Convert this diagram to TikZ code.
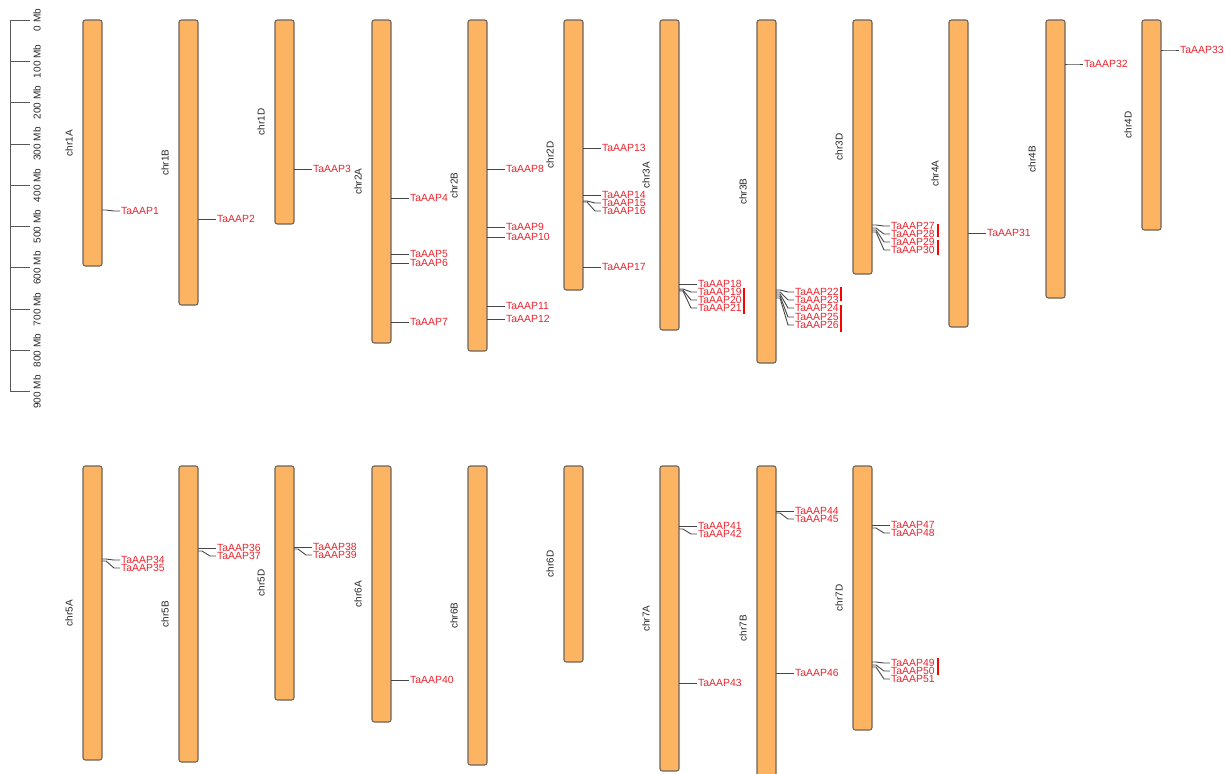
\documentclass[tikz,border=0pt]{standalone}
\usepackage{fontspec}
\setmainfont{Liberation Sans}
\definecolor{chrfill}{RGB}{253,180,98}
\definecolor{chrdraw}{RGB}{110,100,90}
\definecolor{genered}{RGB}{235,35,45}
\definecolor{linegray}{RGB}{70,70,70}
\tikzset{
  chrbox/.style={draw=chrdraw, fill=chrfill, line width=0.55pt, rounded corners=1.2pt},
  chrlab/.style={rotate=90, font=\fontsize{5}{6}\selectfont, text=black!85, inner sep=0pt},
  glabel/.style={anchor=west, font=\fontsize{5.2}{5.2}\selectfont, text=genered, inner sep=0.4pt},
  gline/.style={draw=linegray, line width=0.45pt},
  redbar/.style={draw=red, line width=1.1pt},
  ruler/.style={draw=black!65, line width=0.5pt},
  rulerlab/.style={rotate=90, font=\fontsize{5}{6}\selectfont, text=black!85, inner sep=0pt}
}
% #1 name, #2 left x, #3 top y, #4 bottom y, #5 label
\newcommand\chromo[5]{%
  \draw[chrbox] (#2,#3) rectangle (#2+19,#4);
  \node[chrlab] (#1) at (#2-14,{(#3+#4)/2}) {#5};
}
% #1 chr right x, #2 origin y, #3 label y, #4 number
\newcommand\gene[4]{%
  \node[glabel] (g#4) at (#1+18,#3) {TaAAP#4};
  \coordinate (o#4) at (#1,#2);
  \draw[gline] (o#4) -- ++(4,0) -- (#1+12,#3) -- (g#4.west);
}
\begin{document}
\begin{tikzpicture}[x=0.5pt,y=-0.5pt]
\useasboundingbox (0,0) rectangle (1225,773);
% ruler
\coordinate (r0) at (10,20);
\coordinate (r9) at (10,392);
\draw[ruler] (r0) -- (r9);
\foreach \i/\t in {0/0 Mb,1/100 Mb,2/200 Mb,3/300 Mb,4/400 Mb,5/500 Mb,6/600 Mb,7/700 Mb,8/800 Mb,9/900 Mb}{
  \draw[ruler] (10,{20+41.33*\i}) -- (30,{20+41.33*\i});
  \node[rulerlab] (rl\i) at (37,{20+41.33*\i}) {\t};
}
% top row chromosomes
\chromo{c1A}{83}{20}{266}{chr1A}
\chromo{c1B}{179}{20}{305}{chr1B}
\chromo{c1D}{275}{20}{224}{chr1D}
\chromo{c2A}{372}{20}{343}{chr2A}
\chromo{c2B}{468}{20}{351}{chr2B}
\chromo{c2D}{564}{20}{290}{chr2D}
\chromo{c3A}{660}{20}{330}{chr3A}
\chromo{c3B}{757}{20}{363}{chr3B}
\chromo{c3D}{853}{20}{274}{chr3D}
\chromo{c4A}{949}{20}{327}{chr4A}
\chromo{c4B}{1046}{20}{298}{chr4B}
\chromo{c4D}{1142}{20}{230}{chr4D}
% bottom row chromosomes
\chromo{c5A}{83}{466}{760}{chr5A}
\chromo{c5B}{179}{466}{762}{chr5B}
\chromo{c5D}{275}{466}{700}{chr5D}
\chromo{c6A}{372}{466}{722}{chr6A}
\chromo{c6B}{468}{466}{765}{chr6B}
\chromo{c6D}{564}{466}{662}{chr6D}
\chromo{c7A}{660}{466}{771}{chr7A}
\chromo{c7B}{757}{466}{790}{chr7B}
\chromo{c7D}{853}{466}{730}{chr7D}
% genes top row
\gene{102}{210}{211}{1}
\gene{198}{219}{219}{2}
\gene{294}{169}{169}{3}
\gene{391}{198}{198}{4}
\gene{391}{254}{254}{5}
\gene{391}{263}{263}{6}
\gene{391}{322}{322}{7}
\gene{487}{169}{169}{8}
\gene{487}{227}{227}{9}
\gene{487}{237}{237}{10}
\gene{487}{306}{306}{11}
\gene{487}{319}{319}{12}
\gene{583}{148}{148}{13}
\gene{583}{195}{195}{14}
\gene{583}{201}{203}{15}
\gene{583}{202}{211}{16}
\gene{583}{267}{267}{17}
\gene{679}{284}{284}{18}
\gene{679}{289}{292}{19}
\gene{679}{290}{300}{20}
\gene{679}{291}{308}{21}
\gene{776}{290}{292}{22}
\gene{776}{292}{300}{23}
\gene{776}{294}{308}{24}
\gene{776}{296}{317}{25}
\gene{776}{298}{325}{26}
\gene{872}{225}{226}{27}
\gene{872}{228}{234}{28}
\gene{872}{230}{242}{29}
\gene{872}{232}{250}{30}
\gene{968}{233}{233}{31}
\gene{1065}{64}{64}{32}
\gene{1161}{50}{50}{33}
% genes bottom row
\gene{102}{559}{560}{34}
\gene{102}{561}{568}{35}
\gene{198}{548}{548}{36}
\gene{198}{551}{556}{37}
\gene{294}{547}{547}{38}
\gene{294}{549}{555}{39}
\gene{391}{680}{680}{40}
\gene{679}{526}{526}{41}
\gene{679}{529}{534}{42}
\gene{679}{683}{683}{43}
\gene{776}{511}{511}{44}
\gene{776}{513}{519}{45}
\gene{776}{673}{673}{46}
\gene{872}{525}{525}{47}
\gene{872}{528}{533}{48}
\gene{872}{662}{663}{49}
\gene{872}{665}{671}{50}
\gene{872}{667}{679}{51}
% red bars
\coordinate (b1t) at (744,288); \coordinate (b1b) at (744,314);
\coordinate (b2t) at (841,287); \coordinate (b2b) at (841,301);
\coordinate (b3t) at (841,305); \coordinate (b3b) at (841,332);
\coordinate (b4t) at (938,224); \coordinate (b4b) at (938,237);
\coordinate (b5t) at (938,240); \coordinate (b5b) at (938,255);
\coordinate (b6t) at (938,658); \coordinate (b6b) at (938,675);
\foreach \b in {1,...,6}{\draw[redbar] (b\b t) -- (b\b b);}
\end{tikzpicture}
\end{document}
